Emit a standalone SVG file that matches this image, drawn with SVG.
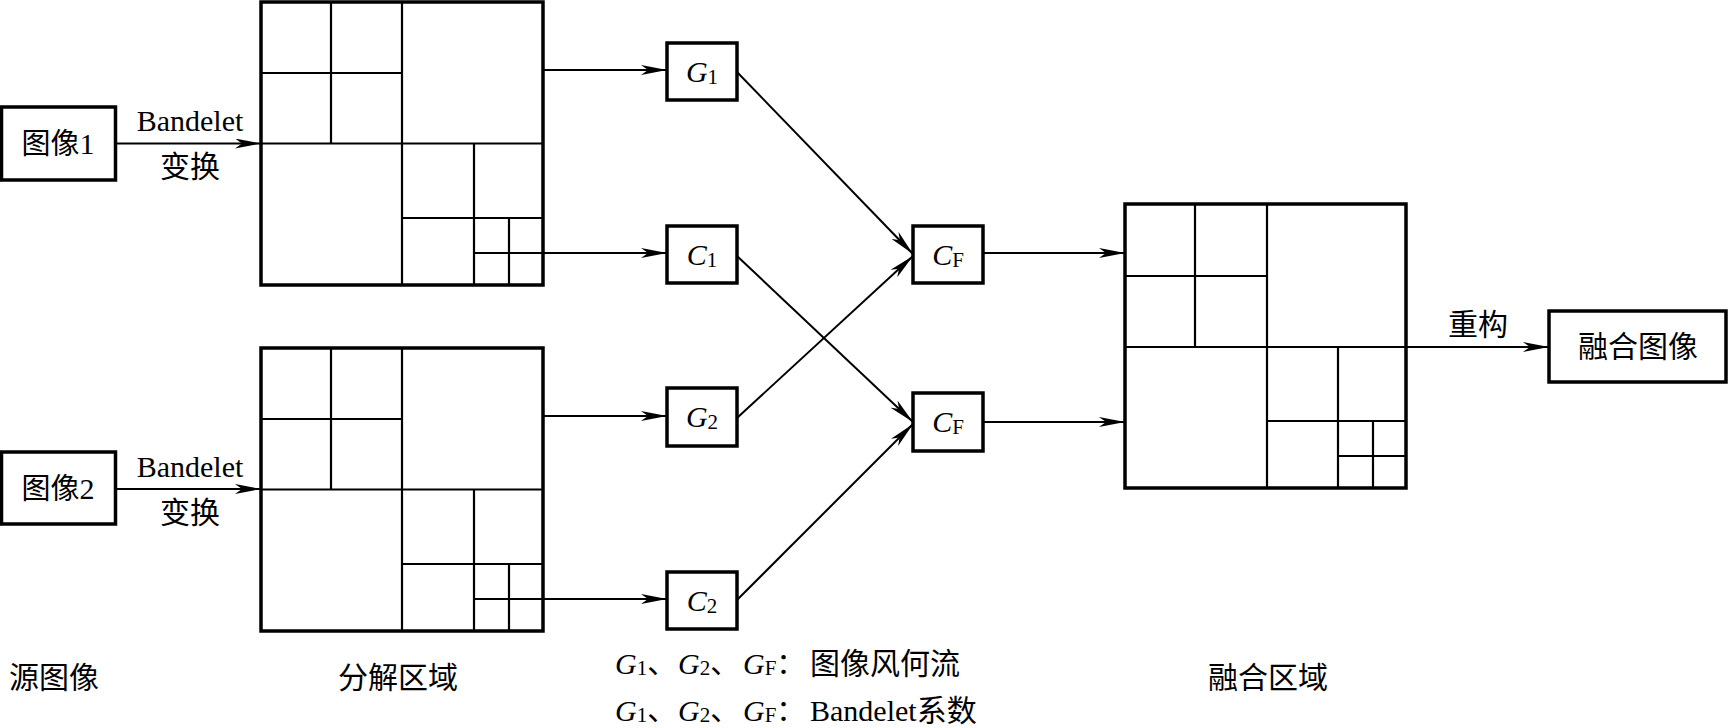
<svg xmlns="http://www.w3.org/2000/svg" width="1728" height="728" viewBox="0 0 1728 728">
<style>
.bg{fill:#fff}
.box{fill:#fff;stroke:#000;stroke-width:3.5}
.outer{fill:none;stroke:#000;stroke-width:3.5}
.inner{fill:none;stroke:#000;stroke-width:2.2}
.con{fill:none;stroke:#000;stroke-width:2}
text{font-family:"Liberation Serif","Noto Sans CJK SC",serif;font-size:30px;fill:#000}
.cn{font-family:"Noto Sans CJK SC","Liberation Serif",sans-serif;font-size:29px}
.it{font-style:italic}
.sub{font-size:21px}
</style>
<defs>
<marker id="arr" markerUnits="userSpaceOnUse" markerWidth="26" markerHeight="10" refX="26" refY="5" orient="auto">
<path d="M0,0 L26,5 L0,10 L7,5 Z" fill="#000"/>
</marker>
</defs>
<rect class="bg" x="0" y="0" width="1728" height="728"/>

<g id="src1">
<rect class="box" x="1.5" y="107" width="114" height="73"/>
<text x="58" y="154" text-anchor="middle"><tspan class="cn">图像</tspan>1</text>
</g>
<g id="src2">
<rect class="box" x="1.5" y="452" width="114" height="72"/>
<text x="58" y="499" text-anchor="middle"><tspan class="cn">图像</tspan>2</text>
</g>

<g id="grid1">
<rect class="outer" x="261" y="2" width="282" height="283"/>
<path class="inner" d="M402,2V285 M261,143.5H543 M331,2V143.5 M261,73H402 M474,143.5V285 M402,218H543 M509,218V285 M474,253H543"/>
</g>
<g id="grid2" transform="translate(0,346)">
<rect class="outer" x="261" y="2" width="282" height="283"/>
<path class="inner" d="M402,2V285 M261,143.5H543 M331,2V143.5 M261,73H402 M474,143.5V285 M402,218H543 M509,218V285 M474,253H543"/>
</g>

<g id="G1">
<rect class="box" x="667" y="43" width="70" height="57"/>
<text x="702" y="82" text-anchor="middle"><tspan class="it">G</tspan><tspan class="sub" dy="2">1</tspan></text>
</g>
<g id="C1">
<rect class="box" x="667" y="226" width="70" height="57"/>
<text x="702" y="265" text-anchor="middle"><tspan class="it">C</tspan><tspan class="sub" dy="2">1</tspan></text>
</g>
<g id="G2">
<rect class="box" x="667" y="388" width="70" height="58"/>
<text x="702" y="427" text-anchor="middle"><tspan class="it">G</tspan><tspan class="sub" dy="2">2</tspan></text>
</g>
<g id="C2">
<rect class="box" x="667" y="572" width="70" height="57"/>
<text x="702" y="611" text-anchor="middle"><tspan class="it">C</tspan><tspan class="sub" dy="2">2</tspan></text>
</g>
<g id="CF1">
<rect class="box" x="913" y="226" width="70" height="57"/>
<text x="948" y="265" text-anchor="middle"><tspan class="it">C</tspan><tspan class="sub" dy="2">F</tspan></text>
</g>
<g id="CF2">
<rect class="box" x="913" y="393" width="70" height="58"/>
<text x="948" y="432" text-anchor="middle"><tspan class="it">C</tspan><tspan class="sub" dy="2">F</tspan></text>
</g>

<g id="fusegrid">
<rect class="outer" x="1125" y="204" width="281" height="284"/>
<path class="inner" d="M1267,204V488 M1125,347H1406 M1195,204V347 M1125,276H1267 M1338,347V488 M1267,421H1406 M1373,421V488 M1338,456H1406"/>
</g>

<g id="fused">
<rect class="box" x="1549" y="311" width="177" height="71"/>
<text class="cn" x="1638" y="357" text-anchor="middle" style="font-size:30px">融合图像</text>
</g>

<g id="connectors">
<path class="con" marker-end="url(#arr)" d="M116,143.5H261"/>
<path class="con" marker-end="url(#arr)" d="M116,489H261"/>
<path class="con" marker-end="url(#arr)" d="M543,70H667"/>
<path class="con" marker-end="url(#arr)" d="M543,253H667"/>
<path class="con" marker-end="url(#arr)" d="M543,416H667"/>
<path class="con" marker-end="url(#arr)" d="M543,599H667"/>
<path class="con" marker-end="url(#arr)" d="M737,72L913,254"/>
<path class="con" marker-end="url(#arr)" d="M737,418L913,256"/>
<path class="con" marker-end="url(#arr)" d="M737,256L913,422"/>
<path class="con" marker-end="url(#arr)" d="M737,600L913,424"/>
<path class="con" marker-end="url(#arr)" d="M983,253H1125"/>
<path class="con" marker-end="url(#arr)" d="M983,422H1125"/>
<path class="con" marker-end="url(#arr)" d="M1406,347H1549"/>
</g>

<g id="labels">
<text x="190" y="131" text-anchor="middle">Bandelet</text>
<text class="cn" x="190" y="177" text-anchor="middle" style="font-size:30px">变换</text>
<text x="190" y="477" text-anchor="middle">Bandelet</text>
<text class="cn" x="190" y="523" text-anchor="middle" style="font-size:30px">变换</text>
<text class="cn" x="1478" y="335" text-anchor="middle" style="font-size:30px">重构</text>
<text class="cn" x="54" y="688" text-anchor="middle" style="font-size:30px">源图像</text>
<text class="cn" x="398" y="688" text-anchor="middle" style="font-size:30px">分解区域</text>
<text class="cn" x="1268" y="688" text-anchor="middle" style="font-size:30px">融合区域</text>
</g>

<g id="legend">
<text y="674"><tspan x="615" class="it">G</tspan><tspan class="sub" dy="1">1</tspan><tspan class="cn" dy="-1">、</tspan><tspan x="678" class="it">G</tspan><tspan class="sub" dy="1">2</tspan><tspan class="cn" dy="-1">、</tspan><tspan x="743" class="it">G</tspan><tspan class="sub" dy="1">F</tspan><tspan class="cn" dy="-1">：</tspan><tspan x="810" class="cn" style="font-size:30px">图像风何流</tspan></text>
<text y="721"><tspan x="615" class="it">G</tspan><tspan class="sub" dy="1">1</tspan><tspan class="cn" dy="-1">、</tspan><tspan x="678" class="it">G</tspan><tspan class="sub" dy="1">2</tspan><tspan class="cn" dy="-1">、</tspan><tspan x="743" class="it">G</tspan><tspan class="sub" dy="1">F</tspan><tspan class="cn" dy="-1">：</tspan><tspan x="810">Bandelet</tspan><tspan class="cn" style="font-size:30px">系数</tspan></text>
</g>
</svg>
